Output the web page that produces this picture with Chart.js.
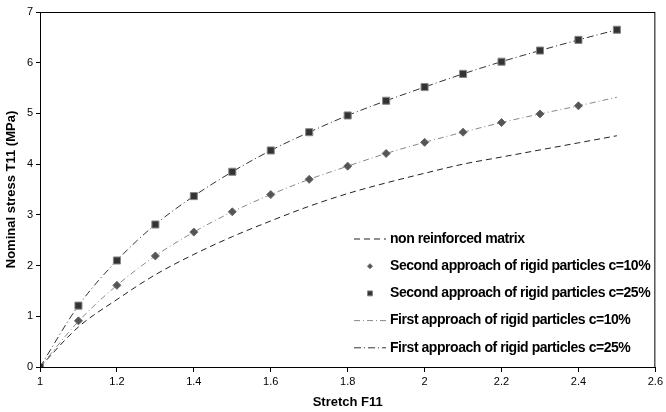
<!DOCTYPE html>
<html>
<head>
<meta charset="utf-8">
<script src="https://cdn.jsdelivr.net/npm/chart.js@4.4.1/dist/chart.umd.min.js"></script>
<style>
  html, body { margin: 0; padding: 0; background: #fff; }
  #wrap { width: 666px; height: 412px; position: relative; }
</style>
</head>
<body>
<div id="wrap"><canvas id="stressChart"></canvas></div>
<script>
// ---------- data ----------
const stretch = [1.0, 1.1, 1.2, 1.3, 1.4, 1.5, 1.6, 1.7, 1.8, 1.9, 2.0, 2.1, 2.2, 2.3, 2.4, 2.5];

const matrixStress = [0, 0.79, 1.33, 1.82, 2.22, 2.57, 2.88, 3.17, 3.42, 3.63, 3.82, 4.0, 4.14, 4.28, 4.42, 4.56];
const secondC10 = [0, 0.91, 1.61, 2.19, 2.66, 3.06, 3.40, 3.70, 3.96, 4.21, 4.43, 4.63, 4.82, 4.99, 5.15];
const secondC25 = [0, 1.21, 2.10, 2.81, 3.37, 3.85, 4.27, 4.63, 4.96, 5.25, 5.52, 5.78, 6.02, 6.24, 6.45, 6.65];
const firstC10 = [0, 0.90, 1.61, 2.19, 2.66, 3.06, 3.40, 3.70, 3.96, 4.21, 4.43, 4.63, 4.82, 4.99, 5.15, 5.32];
const firstC25 = [0, 1.21, 2.10, 2.81, 3.37, 3.85, 4.27, 4.63, 4.96, 5.25, 5.52, 5.78, 6.02, 6.24, 6.45, 6.65];

const seriesLabels = [
    "non reinforced matrix",
    "Second approach of rigid particles c=10%",
    "Second approach of rigid particles c=25%",
    "First approach of rigid particles c=10%",
    "First approach of rigid particles c=25%"
];

const xTicks = [1, 1.2, 1.4, 1.6, 1.8, 2, 2.2, 2.4, 2.6];
const yTicks = [0, 1, 2, 3, 4, 5, 6, 7];

const FONT = "'Liberation Sans', Arial, sans-serif";

function pts(ys) {
    return ys.map((y, i) => ({ x: stretch[i], y }));
}

// ---------- legend + frame drawn on the canvas ----------
const framePlugin = {
    id: "frame",
    afterDraw(chart) {
        const { ctx, chartArea: a } = chart;
        ctx.save();
        ctx.strokeStyle = "#000";
        ctx.lineWidth = 1;
        ctx.strokeRect(a.left + 0.5, a.top + 0.5, a.right - a.left - 1, a.bottom - a.top);

        // legend, inside the plot at bottom right
        const x0 = 354, x1 = 386, tx = 390, y0 = 239, dy = 27.2;
        chart.data.datasets.forEach((ds, i) => {
            const y = y0 + i * dy;
            if (ds.showLine !== false) {
                ctx.beginPath();
                ctx.setLineDash(ds.borderDash || []);
                ctx.strokeStyle = ds.borderColor;
                ctx.lineWidth = ds.borderWidth;
                ctx.moveTo(x0, y);
                ctx.lineTo(x1, y);
                ctx.stroke();
                ctx.setLineDash([]);
            } else {
                ctx.fillStyle = ds.pointBackgroundColor;
                ctx.strokeStyle = ds.pointBorderColor;
                ctx.lineWidth = 1;
                Chart.helpers.drawPoint(ctx, {
                    pointStyle: ds.pointStyle,
                    radius: ds.pointRadius - 1.5,
                    borderWidth: 1,
                    rotation: 0
                }, (x0 + x1) / 2, y);
            }
            ctx.font = "bold 14px " + FONT;
            ctx.letterSpacing = "-0.45px";
            ctx.textBaseline = "middle";
            ctx.fillStyle = "#000";
            ctx.fillText(ds.label, tx, y);
        });
        ctx.restore();
    }
};

const chart = new Chart(document.getElementById("stressChart"), {
    type: "scatter",
    data: {
        datasets: [
            {
                label: seriesLabels[0],
                data: pts(matrixStress),
                showLine: true,
                borderColor: "#222",
                borderWidth: 1,
                borderDash: [6, 4],
                pointRadius: 0,
                cubicInterpolationMode: "monotone",
                order: 5
            },
            {
                label: seriesLabels[1],
                data: pts(secondC10),
                showLine: false,
                pointStyle: "rectRot",
                pointRadius: 4,
                pointBackgroundColor: "#555",
                pointBorderColor: "#666",
                pointBorderWidth: 1,
                order: 1
            },
            {
                label: seriesLabels[2],
                data: pts(secondC25),
                showLine: false,
                pointStyle: "rect",
                pointRadius: 5,
                pointBackgroundColor: "#333",
                pointBorderColor: "#888",
                pointBorderWidth: 1,
                order: 0
            },
            {
                label: seriesLabels[3],
                data: pts(firstC10),
                showLine: true,
                borderColor: "#888",
                borderWidth: 1,
                borderDash: [6, 3, 1, 3],
                pointRadius: 0,
                cubicInterpolationMode: "monotone",
                order: 4
            },
            {
                label: seriesLabels[4],
                data: pts(firstC25),
                showLine: true,
                borderColor: "#333",
                borderWidth: 1,
                borderDash: [7, 3, 1, 3],
                pointRadius: 0,
                cubicInterpolationMode: "monotone",
                order: 3
            }
        ]
    },
    options: {
        responsive: true,
        maintainAspectRatio: false,
        animation: false,
        layout: { padding: { top: 12, right: 9, left: 0, bottom: 0 } },
        plugins: {
            legend: { display: false },
            tooltip: { enabled: false }
        },
        scales: {
            x: {
                type: "linear",
                min: 1,
                max: 2.6,
                afterFit: s => { s.height = 45; },
                afterBuildTicks: s => { s.ticks = xTicks.map(v => ({ value: v })); },
                grid: { display: true, drawOnChartArea: false, drawTicks: true, tickLength: 5, color: "#000" },
                border: { display: true, color: "#000", width: 1 },
                ticks: {
                    color: "#000",
                    font: { family: FONT, size: 11 },
                    padding: 3,
                    maxRotation: 0,
                    callback: v => String(Math.round(v * 10) / 10)
                },
                title: {
                    display: true,
                    text: "Stretch F11",
                    color: "#000",
                    font: { family: FONT, size: 13, weight: "bold" },
                    padding: { top: 1, bottom: 2 }
                }
            },
            y: {
                min: 0,
                max: 7,
                afterFit: s => { s.width = 40; },
                afterBuildTicks: s => { s.ticks = yTicks.map(v => ({ value: v })); },
                grid: { display: true, drawOnChartArea: false, drawTicks: true, tickLength: 4, color: "#000" },
                border: { display: true, color: "#000", width: 1 },
                ticks: {
                    color: "#000",
                    font: { family: FONT, size: 11 },
                    padding: 3
                },
                title: {
                    display: true,
                    text: "Nominal stress T11 (MPa)",
                    color: "#000",
                    font: { family: FONT, size: 13, weight: "bold" },
                    padding: { top: 4, bottom: 2 }
                }
            }
        }
    },
    plugins: [framePlugin]
});
</script>
</body>
</html>
